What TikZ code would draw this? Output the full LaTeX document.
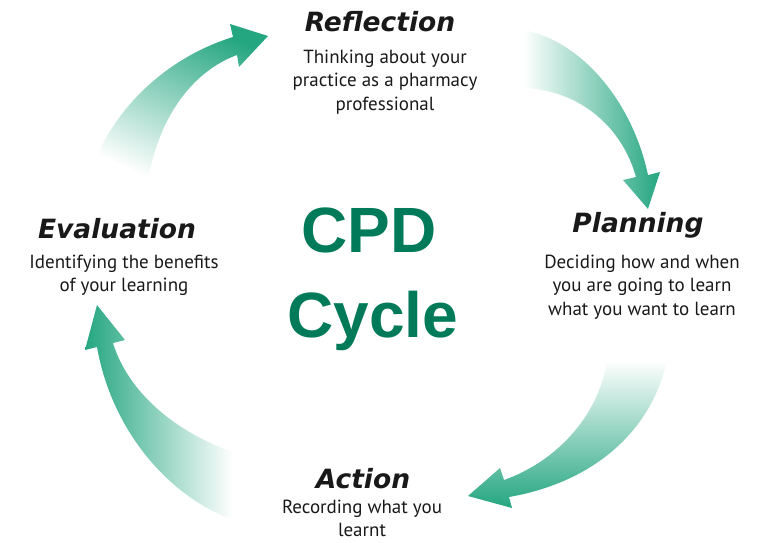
\documentclass[tikz,border=0pt]{standalone}
\usepackage{fontspec}
\setmainfont{DejaVu Sans}
\newfontfamily\headfont{DejaVu Sans}
\newfontfamily\bodyfont{PT Sans}
\newfontfamily\bigfont{Liberation Sans}
\usepackage{tikz}
\usetikzlibrary{positioning}
\definecolor{cpdteal}{RGB}{36,166,128}
\definecolor{cpdgreen}{RGB}{0,122,88}

\begin{document}
\begin{tikzpicture}[x=1pt,y=-1pt,every node/.style={inner sep=0,outer sep=0,text=black!90},
    head/.style={anchor=base,font=\headfont\bfseries\itshape\fontsize{26.5}{30}\selectfont},
    body/.style={anchor=base,align=center,font=\bodyfont\fontsize{19}{23.5}\selectfont},
    big/.style={anchor=base,text=cpdgreen,font=\bigfont\bfseries\fontsize{64}{70}\selectfont}]
	\useasboundingbox (0,0) rectangle (768,543);
	% arrows of the cycle
	\shade[bottom color=white,top color=cpdteal,shading angle=-25]
	    (88,180) .. controls (108,112) and (165,58) .. (233,37) -- (230,24) -- (268,36)
	    -- (239,67) -- (237,55) .. controls (196,70) and (160,112) .. (148,180) -- cycle;
	\shade[left color=white,right color=cpdteal]
	    (523,30) .. controls (580,40) and (632,100) .. (648,175) -- (660,172) -- (648,209)
	    -- (623,180) -- (636,177) .. controls (622,127) and (580,90) .. (523,88) -- cycle;
	\shade[top color=white,bottom color=cpdteal]
	    (667,360) .. controls (652,430) and (595,482) .. (509,497) -- (512,508) -- (468,496)
	    -- (500,468) -- (504,480) .. controls (560,460) and (600,412) .. (607,360) -- cycle;
	\shade[right color=white,left color=cpdteal]
	    (233,520) .. controls (170,497) and (112,432) .. (97,347) -- (85,350) -- (97,305)
	    -- (125,340) -- (113,343) .. controls (128,392) and (175,432) .. (233,452) -- cycle;
	% stages (base = last line)
	\node[head] (refl) at (380,32) {Reflection};
	\node[body] (reflText) at (385,110) {Thinking about your\\practice as a pharmacy\\professional};
	\node[head] (plan) at (638,232) {Planning};
	\node[body] (planText) at (642,315) {Deciding how and when\\you are going to learn\\what you want to learn};
	\node[head] (act) at (363,488) {Action};
	\node[body] (actText) at (362,536.5) {Recording what you\\learnt};
	\node[head] (eval) at (117,238) {Evaluation};
	\node[body] (evalText) at (124,291.5) {Identifying the benefits\\of your learning};
	% centre
	\node[big] (cpd) at (369,252) {CPD};
	\node[big] (cycle) at (373,337) {Cycle};
\end{tikzpicture}
\end{document}
